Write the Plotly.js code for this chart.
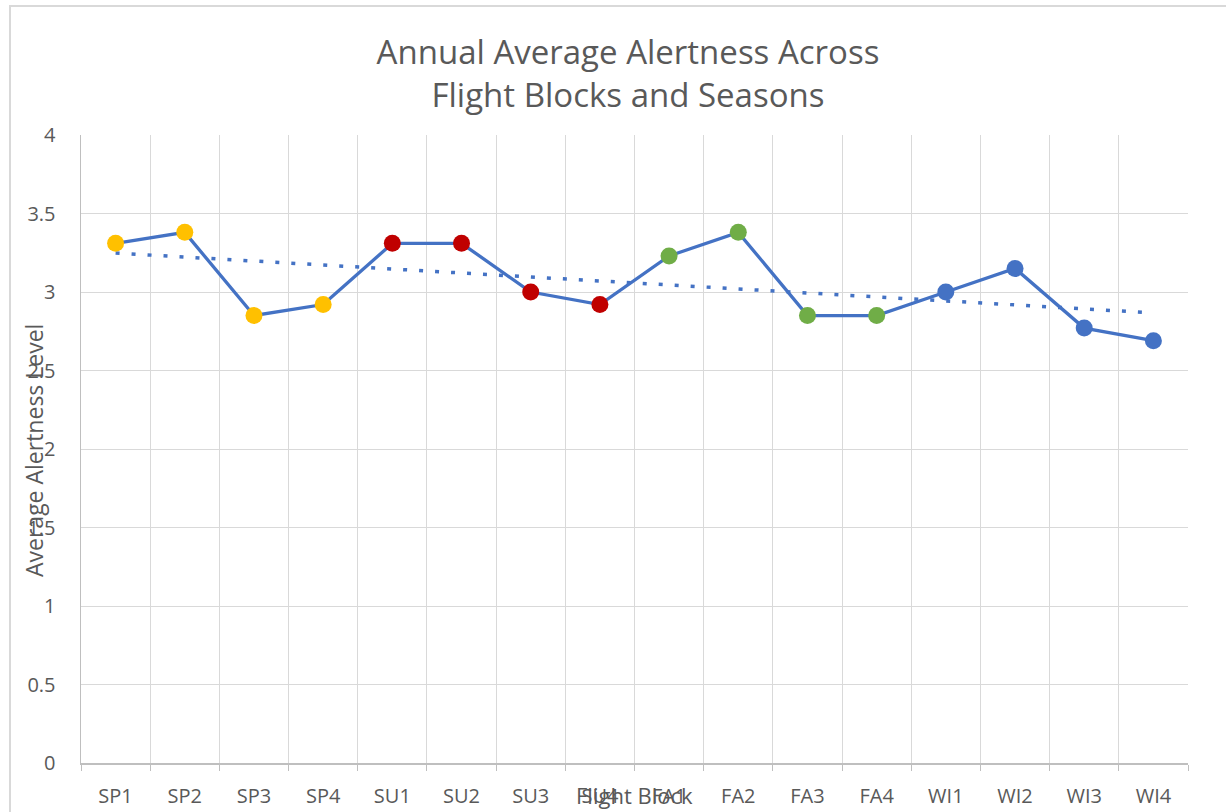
<!DOCTYPE html>
<html>
<head>
<meta charset="utf-8">
<script src="https://cdn.plot.ly/plotly-3.0.1.min.js"></script>
<style>html,body{margin:0;padding:0;background:#fff;}#chart{width:1226px;height:812px;}</style>
</head>
<body>
<div id="chart"></div>
<script>
const categories = ["SP1","SP2","SP3","SP4","SU1","SU2","SU3","SU4","FA1","FA2","FA3","FA4","WI1","WI2","WI3","WI4"];
const seasons = ["Spring","Spring","Spring","Spring","Summer","Summer","Summer","Summer","Fall","Fall","Fall","Fall","Winter","Winter","Winter","Winter"];
const alertness = [3.31, 3.38, 2.85, 2.92, 3.31, 3.31, 3.00, 2.92, 3.23, 3.38, 2.85, 2.85, 3.00, 3.15, 2.77, 2.69];
const seasonColors = {Spring:"#FFC000", Summer:"#C00000", Fall:"#70AD47", Winter:"#4472C4"};
const yTicks = [0, 0.5, 1, 1.5, 2, 2.5, 3, 3.5, 4];

// Linear trendline (least squares) from the data, like Excel's trendline
const n = alertness.length;
const xs = alertness.map((_, i) => i + 1);
const mx = xs.reduce((a, b) => a + b, 0) / n;
const my = alertness.reduce((a, b) => a + b, 0) / n;
let sxy = 0, sxx = 0;
for (let i = 0; i < n; i++) { sxy += (xs[i] - mx) * (alertness[i] - my); sxx += (xs[i] - mx) ** 2; }
const slope = sxy / sxx, intercept = my - slope * mx;
const trend = xs.map(x => intercept + slope * x);

const font = "Open Sans, Noto Sans, sans-serif";
const grey = "#595959";

const traces = [
  {
    x: categories, y: trend, type: "scatter", mode: "lines",
    line: {color: "#4472C4", width: 3.5, dash: "4px,12px"},
    hoverinfo: "skip", showlegend: false
  },
  {
    x: categories, y: alertness, type: "scatter", mode: "lines+markers",
    line: {color: "#4472C4", width: 3.3},
    marker: {size: 17, color: seasons.map(s => seasonColors[s])},
    showlegend: false
  }
];

const layout = {
  width: 1226, height: 812,
  margin: {l: 81, r: 38, t: 135, b: 49},
  paper_bgcolor: "#fff", plot_bgcolor: "#fff",
  font: {family: font, color: grey, size: 20},
  showlegend: false,
  title: {
    text: "Annual Average Alertness Across<br>Flight Blocks and Seasons",
    font: {family: font, size: 33, color: grey},
    x: 628 / 1226, xref: "container", xanchor: "center",
    y: 0.921, yref: "container", yanchor: "top"
  },
  xaxis: {
    type: "category", tickmode: "array", tickvals: categories, ticktext: categories,
    range: [-0.5, 15.5],
    tickson: "boundaries", ticks: "outside", ticklen: 6, tickcolor: "#bfbfbf",
    showgrid: true, gridcolor: "#d9d9d9", gridwidth: 1,
    showline: true, linecolor: "#bfbfbf", linewidth: 1.5,
    tickfont: {family: font, size: 20, color: grey},
    ticklabelstandoff: 14,
    zeroline: false, automargin: false
  },
  yaxis: {
    range: [0, 4], tickmode: "array", tickvals: yTicks, ticktext: yTicks.map(String),
    showgrid: true, gridcolor: "#d9d9d9", gridwidth: 1,
    showline: true, linecolor: "#bfbfbf", linewidth: 1.5,
    ticks: "", tickfont: {family: font, size: 20, color: grey},
    ticklabelstandoff: 20,
    zeroline: false, automargin: false
  },
  annotations: [
    {
      text: "Average Alertness Level", xref: "paper", yref: "paper",
      x: (34 - 81) / 1107, y: (763 - 451) / 628, xanchor: "center", yanchor: "middle",
      textangle: -90, showarrow: false, font: {family: font, size: 23, color: grey}
    },
    {
      text: "Flight Block", xref: "paper", yref: "paper",
      x: (634 - 81) / 1107, y: (763 - 795) / 628, xanchor: "center", yanchor: "middle",
      showarrow: false, font: {family: font, size: 22, color: grey}
    }
  ],
  shapes: [
    {
      type: "rect", xref: "paper", yref: "paper",
      x0: (10 - 81) / 1107, x1: 1.2, y0: -0.3, y1: (763 - 6) / 628,
      line: {color: "#d9d9d9", width: 2}, fillcolor: "rgba(0,0,0,0)", layer: "below"
    }
  ]
};

Plotly.newPlot("chart", traces, layout, {displayModeBar: false, staticPlot: true});
</script>
</body>
</html>
